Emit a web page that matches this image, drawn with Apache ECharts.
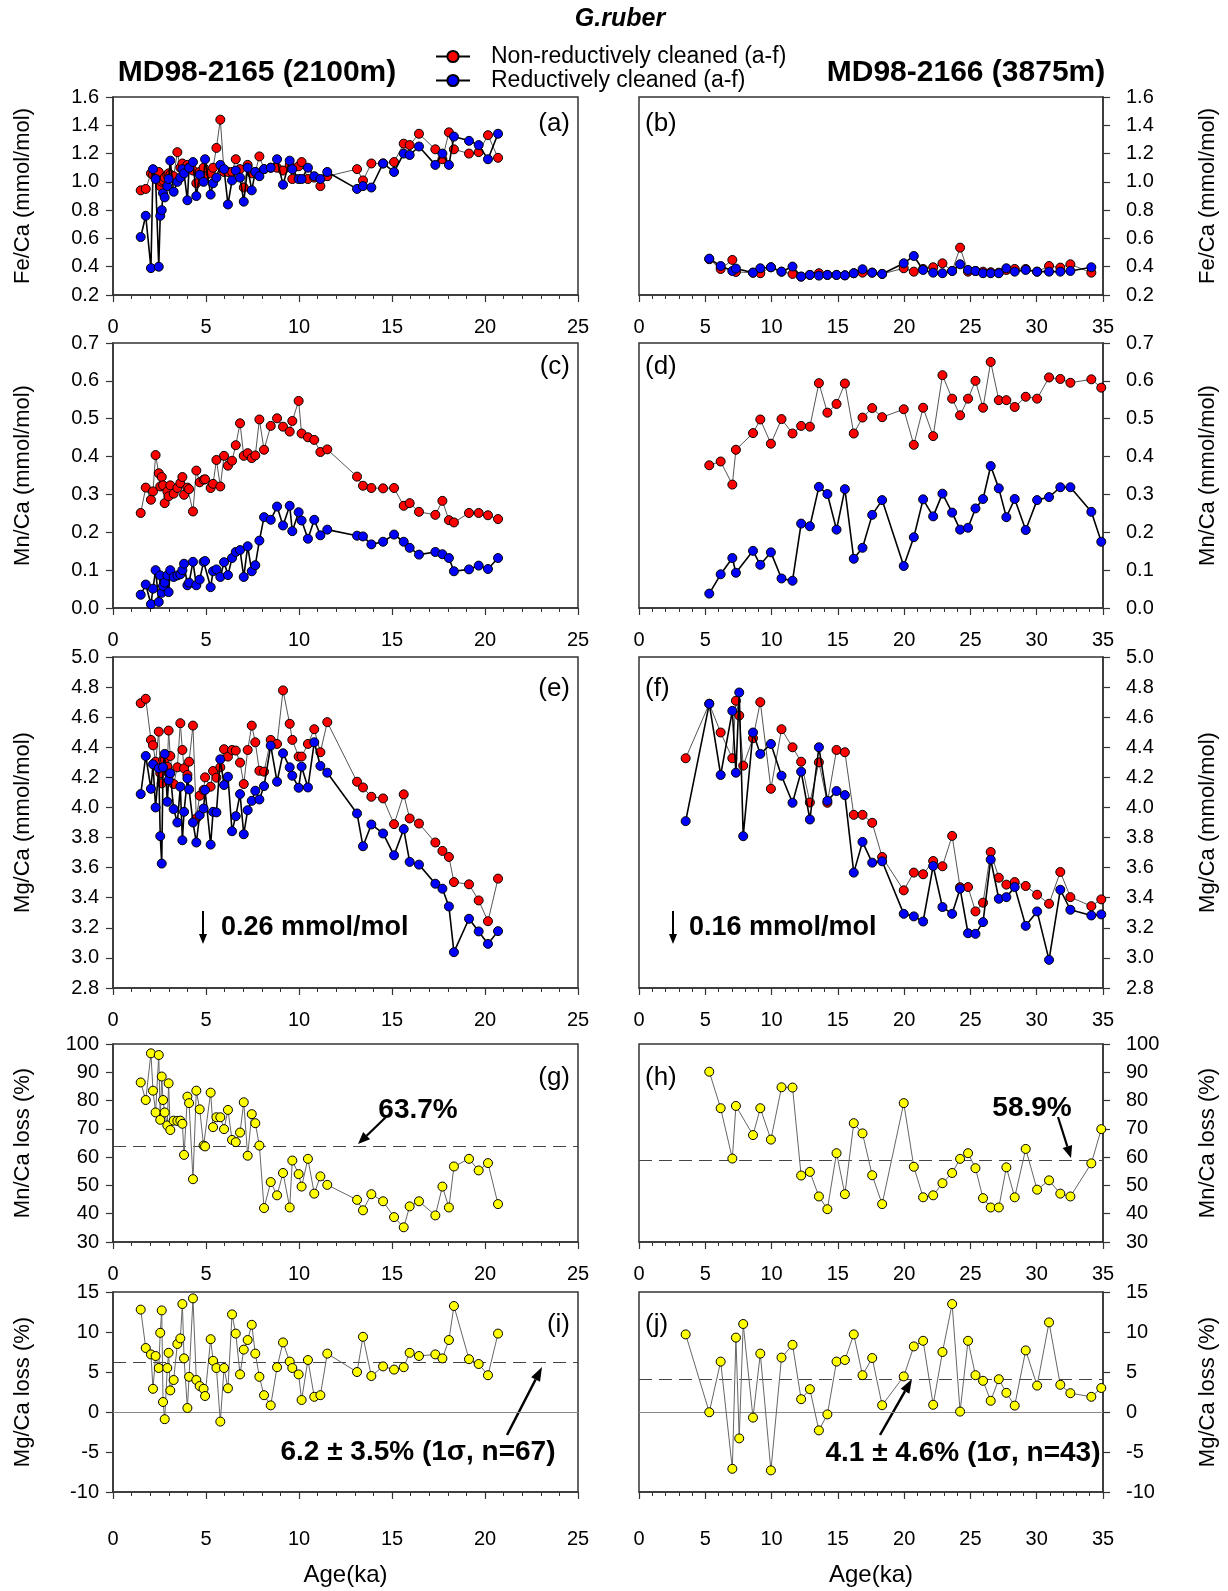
<!DOCTYPE html>
<html><head><meta charset="utf-8">
<script src="https://cdn.jsdelivr.net/npm/echarts@6/dist/echarts.min.js"></script>
<style>html,body{margin:0;padding:0;background:#fff}#c{width:1228px;height:1591px}</style>
</head><body><div id="c"></div><script>
// ---------------- DATA ----------------
const AGE_L = [1.49,1.76,2.04,2.15,2.29,2.46,2.54,2.62,2.69,2.78,2.92,2.99,3.08,3.26,3.46,3.62,3.73,3.82,4.0,4.09,4.3,4.48,4.66,4.87,4.95,5.25,5.38,5.56,5.77,5.97,6.18,6.4,6.6,6.83,7.03,7.24,7.46,7.65,7.87,8.12,8.48,8.82,9.14,9.5,9.64,9.98,10.14,10.48,10.82,11.15,11.52,13.12,13.44,13.89,14.52,15.11,15.63,15.95,16.45,17.33,17.71,18.06,18.33,19.14,19.66,20.16,20.7];
const AGE_R = [3.52,5.3,6.16,7.04,7.31,7.56,7.86,8.6,9.15,9.95,10.75,11.58,12.23,12.89,13.57,14.21,14.9,15.53,16.2,16.86,17.59,18.34,19.97,20.73,21.43,22.19,22.89,23.62,24.22,24.82,25.38,25.95,26.53,27.14,27.71,28.34,29.17,30.03,30.93,31.78,32.54,34.12,34.87];

// MD98-2165 (left)
const FE_NR_L = [0.94,0.95,1.06,1.05,1.04,1.07,0.97,1.00,1.01,1.03,1.05,1.06,1.05,1.04,1.21,1.10,1.13,1.09,1.12,1.10,1.08,0.99,1.07,1.10,1.04,1.06,1.10,1.24,1.44,1.07,1.07,1.07,1.16,1.09,0.96,1.12,1.06,1.07,1.18,1.09,1.10,1.10,1.08,1.12,1.02,1.11,1.14,1.02,1.03,0.97,1.04,1.09,1.01,1.13,1.13,1.14,1.27,1.26,1.34,1.23,1.16,1.35,1.23,1.20,1.21,1.33,1.17];
const FE_R_L = [0.61,0.76,0.39,1.09,1.02,0.40,0.76,0.80,0.92,0.89,0.97,1.02,1.15,0.93,1.00,1.03,1.09,1.06,0.87,1.10,1.14,0.90,1.05,1.00,1.16,0.91,0.99,1.03,1.12,1.09,0.84,1.01,1.08,1.03,0.86,1.10,0.94,1.07,1.04,1.09,1.10,1.16,0.98,1.15,1.09,1.02,1.02,1.10,1.04,1.02,1.07,0.95,0.97,0.96,1.13,1.07,1.20,1.19,1.25,1.12,1.20,1.12,1.32,1.29,1.26,1.16,1.34];
const MN_NR_L = [0.251,0.318,0.286,0.308,0.404,0.356,0.321,0.346,0.324,0.277,0.308,0.295,0.324,0.302,0.317,0.33,0.346,0.299,0.318,0.314,0.255,0.363,0.332,0.339,0.34,0.317,0.328,0.391,0.321,0.402,0.376,0.389,0.43,0.488,0.402,0.409,0.396,0.403,0.498,0.418,0.481,0.501,0.479,0.466,0.494,0.547,0.461,0.451,0.444,0.412,0.419,0.347,0.323,0.317,0.316,0.317,0.27,0.277,0.254,0.246,0.283,0.232,0.226,0.251,0.251,0.245,0.235];
const MN_R_L = [0.035,0.062,0.01,0.051,0.1,0.016,0.086,0.04,0.058,0.067,0.086,0.042,0.1,0.082,0.086,0.089,0.1,0.117,0.06,0.067,0.122,0.06,0.075,0.122,0.124,0.055,0.097,0.102,0.082,0.121,0.087,0.132,0.148,0.153,0.082,0.163,0.097,0.113,0.178,0.24,0.233,0.268,0.218,0.27,0.203,0.253,0.231,0.183,0.233,0.192,0.207,0.191,0.189,0.168,0.175,0.194,0.175,0.159,0.141,0.148,0.142,0.132,0.097,0.102,0.112,0.103,0.132];
const MG_NR_L = [4.693,4.722,4.449,4.413,4.304,4.504,4.227,4.16,4.316,4.316,4.271,4.511,4.342,4.156,4.267,4.56,4.382,4.26,4.216,4.304,4.544,3.927,4.078,4.116,4.2,4.138,4.242,4.198,4.267,4.387,4.338,4.382,4.378,4.298,4.156,4.382,4.544,4.433,4.244,4.238,4.449,4.422,4.778,4.556,4.449,4.338,4.338,4.422,4.52,4.367,4.567,4.171,4.133,4.071,4.06,3.889,4.087,3.927,3.893,3.767,3.711,3.671,3.504,3.489,3.382,3.244,3.527];
const MG_R_L = [4.089,4.342,4.124,4.287,4.0,4.26,3.809,3.627,4.267,4.356,4.038,4.182,4.227,3.989,3.9,4.138,3.782,3.971,4.193,4.12,3.9,3.767,3.949,3.993,4.116,3.753,3.971,3.967,4.32,4.149,4.204,3.842,3.942,4.089,3.822,3.982,4.044,4.111,4.053,4.142,4.411,4.171,4.36,4.267,4.211,4.131,4.271,4.133,4.433,4.276,4.231,3.96,3.742,3.887,3.827,3.682,3.856,3.638,3.62,3.493,3.46,3.342,3.038,3.26,3.176,3.093,3.178];
const MN_LOSS_L = [86.4,80.2,96.7,83.5,75.8,96.1,73.2,88.5,80.2,75.8,71.2,86.1,69.6,72.9,72.8,72.9,71.8,60.8,81.4,79.1,52.2,83.5,76.9,64.1,63.8,82.8,70.6,74.1,74.1,69.9,76.7,66.1,65.3,68.7,79.4,60.5,75.2,72.0,64.1,42.0,51.2,46.5,54.4,42.2,58.8,54.0,49.6,59.4,47.1,53.2,50.2,44.9,41.2,46.9,44.4,38.8,35.2,42.6,44.4,39.4,49.6,42.2,56.7,59.4,55.3,57.9,43.4];
const MG_LOSS_L = [12.8,8.0,7.2,2.9,7.0,5.5,9.9,12.7,1.25,-0.9,5.5,7.4,2.7,4.0,8.5,9.2,13.5,6.7,0.5,4.4,14.2,4.0,3.25,2.9,2.0,9.1,6.4,5.5,-1.2,5.5,2.96,12.2,9.8,4.7,7.8,9.0,10.9,7.3,4.4,2.1,0.83,5.6,8.7,6.3,5.5,4.7,1.5,6.5,1.9,2.1,7.3,5.0,9.4,4.5,5.7,5.3,5.6,7.4,7.0,7.2,6.7,9.0,13.25,6.6,6.0,4.6,9.8];

// MD98-2166 (right)
const FE_NR_R = [null,0.453,0.384,0.448,0.363,null,null,0.358,0.354,0.396,0.365,0.349,0.33,0.342,0.354,0.342,0.342,0.339,0.354,0.358,0.358,0.349,0.389,0.365,0.384,0.396,0.424,0.37,0.535,0.365,0.37,0.365,0.361,0.358,0.377,0.384,0.384,0.365,0.405,0.394,0.417,0.358,null];
const FE_R_R = [null,0.457,0.405,0.37,0.387,null,null,0.358,0.389,0.396,0.365,0.401,0.33,0.342,0.337,0.342,0.342,0.339,0.354,0.382,0.358,0.349,0.424,0.476,0.377,0.358,0.354,0.37,0.417,0.377,0.37,0.354,0.354,0.354,0.389,0.365,0.377,0.365,0.365,0.365,0.37,0.396,null];
const MN_NR_R = [null,0.377,0.387,0.326,0.418,null,null,0.462,0.498,0.434,0.499,0.461,0.481,0.479,0.594,0.516,0.539,0.593,0.461,0.503,0.528,0.504,0.525,0.431,0.529,0.454,0.615,0.553,0.509,0.553,0.6,0.529,0.65,0.549,0.549,0.531,0.558,0.553,0.609,0.605,0.595,0.604,0.582];
const MN_R_R = [null,0.038,0.089,0.132,0.093,null,null,0.151,0.114,0.147,0.078,0.072,0.223,0.216,0.32,0.301,0.207,0.314,0.13,0.159,0.246,0.285,0.111,0.187,0.287,0.242,0.302,0.252,0.207,0.212,0.263,0.288,0.375,0.316,0.24,0.288,0.206,0.285,0.293,0.319,0.319,0.254,0.175];
const MG_NR_R = [4.327,4.689,4.498,4.327,4.709,4.611,4.278,4.46,4.7,4.124,4.52,4.4,4.304,4.033,4.3,4.031,4.382,4.367,3.951,3.951,3.898,3.671,3.449,3.567,3.556,3.644,3.609,3.811,3.47,3.471,3.309,3.367,3.704,3.533,3.487,3.504,3.478,3.42,3.36,3.571,3.404,3.344,3.389];
const MG_R_R = [3.909,4.689,4.216,4.642,4.231,4.764,3.809,4.498,4.356,4.422,4.211,4.031,4.238,3.92,4.4,4.044,4.109,4.082,3.567,3.771,3.633,3.642,3.293,3.276,3.242,3.611,3.338,3.293,3.46,3.164,3.16,3.238,3.653,3.393,3.404,3.471,3.213,3.309,2.987,3.453,3.32,3.282,3.289];
const MN_LOSS_R = [null,90.2,77.3,59.5,78.1,null,null,67.8,77.3,66.2,84.7,84.6,53.5,54.8,46.1,41.6,61.4,46.9,72.0,68.4,53.6,43.4,79.1,56.6,45.8,46.5,50.8,54.4,59.4,61.4,56.1,45.5,42.2,42.2,56.4,45.8,62.9,48.5,51.8,47.1,46.1,57.8,69.9];
const MG_LOSS_R = [9.7,-0.03,6.3,-7.1,9.3,-3.3,11.0,-0.7,7.3,-7.3,6.8,8.4,1.6,2.85,-2.3,-0.3,6.3,6.5,9.7,4.6,6.75,0.85,4.45,8.2,8.9,0.9,7.5,13.5,0.05,8.9,4.6,3.9,1.4,4.1,2.4,0.8,7.7,3.3,11.2,3.4,2.35,1.9,3.0];

// mean losses (reference lines)
const MEAN_MN_LOSS = [63.7, 58.9];
const MEAN_MG_LOSS = [6.2, 4.1];

// axis ranges [min, max, interval]
const X_RANGE = [[0,25,5],[0,35,5]];
const Y_FE = [0.2,1.6,0.2], Y_MN = [0,0.7,0.1], Y_MG = [2.8,5.0,0.2], Y_MNL = [30,100,10], Y_MGL = [-10,15,5];
const NAME_NR = 'Non-reductively cleaned (a-f)', NAME_R = 'Reductively cleaned (a-f)';

// ---------------- LAYOUT ----------------
const FONT = "'Liberation Sans', Arial, Helvetica, sans-serif";
const COLS = [{left:113,width:465},{left:639,width:464}];
const ROWS = [[97,198],[343,265],[657,331],[1044,198],[1292,200]];
const LABELS = ['(a)','(b)','(c)','(d)','(e)','(f)','(g)','(h)','(i)','(j)'];
const LABEL_Y = [124,367,689,1078,1325];

const panels = [
  {row:0,col:0,y:Y_FE,dec:1,name:'Fe/Ca (mmol/mol)',pair:[FE_NR_L,FE_R_L]},
  {row:0,col:1,y:Y_FE,dec:1,name:'Fe/Ca (mmol/mol)',pair:[FE_NR_R,FE_R_R]},
  {row:1,col:0,y:Y_MN,dec:1,name:'Mn/Ca (mmol/mol)',pair:[MN_NR_L,MN_R_L]},
  {row:1,col:1,y:Y_MN,dec:1,name:'Mn/Ca (mmol/mol)',pair:[MN_NR_R,MN_R_R]},
  {row:2,col:0,y:Y_MG,dec:1,name:'Mg/Ca (mmol/mol)',pair:[MG_NR_L,MG_R_L]},
  {row:2,col:1,y:Y_MG,dec:1,name:'Mg/Ca (mmol/mol)',pair:[MG_NR_R,MG_R_R]},
  {row:3,col:0,y:Y_MNL,dec:0,name:'Mn/Ca loss (%)',loss:MN_LOSS_L,mean:MEAN_MN_LOSS[0]},
  {row:3,col:1,y:Y_MNL,dec:0,name:'Mn/Ca loss (%)',loss:MN_LOSS_R,mean:MEAN_MN_LOSS[1]},
  {row:4,col:0,y:Y_MGL,dec:0,name:'Mg/Ca loss (%)',loss:MG_LOSS_L,mean:MEAN_MG_LOSS[0],zero:true},
  {row:4,col:1,y:Y_MGL,dec:0,name:'Mg/Ca loss (%)',loss:MG_LOSS_R,mean:MEAN_MG_LOSS[1],zero:true}
];

const grid=[], xAxis=[], yAxis=[], series=[];
const AX = '#333';
panels.forEach((p,i)=>{
  const c = COLS[p.col], r = ROWS[p.row];
  const ages = p.col ? AGE_R : AGE_L;
  const xr = X_RANGE[p.col];
  grid.push({left:c.left,width:c.width,top:r[0],height:r[1],show:true,borderColor:AX,borderWidth:1.5,backgroundColor:'transparent'});
  const last = p.row===4;
  xAxis.push({gridIndex:i,type:'value',min:xr[0],max:xr[1],interval:xr[2],
    axisLine:{show:true,onZero:false,lineStyle:{color:AX,width:1.5}},
    axisTick:{show:true,length:7,lineStyle:{color:AX,width:1.2}},
    minorTick:{show:true,splitNumber:5,length:4,lineStyle:{color:AX,width:1}},
    splitLine:{show:false},
    axisLabel:{fontSize:20,color:'#000',fontFamily:FONT,margin:last?37:22},
    name:last?'Age(ka)':'',nameLocation:'middle',nameGap:71,
    nameTextStyle:{fontSize:24,color:'#000',fontFamily:FONT}});
  yAxis.push({gridIndex:i,type:'value',position:p.col?'right':'left',min:p.y[0],max:p.y[1],interval:p.y[2],
    axisLine:{show:true,onZero:false,lineStyle:{color:AX,width:1.5}},
    axisTick:{show:true,length:7,lineStyle:{color:AX,width:1.2}},
    splitLine:{show:false},
    axisLabel:{fontSize:20,color:'#000',fontFamily:FONT,margin:p.col?23:14,formatter:v=>v.toFixed(p.dec)},
    name:p.name,nameLocation:'middle',nameRotate:90,nameGap:p.col?94:79,
    nameTextStyle:{fontSize:22,color:'#000',fontFamily:FONT}});
  const base = {type:'line',xAxisIndex:i,yAxisIndex:i,symbol:'circle',symbolSize:9,connectNulls:true,clip:false,animation:false,silent:true};
  if(p.pair){
    series.push(Object.assign({},base,{name:NAME_NR,data:ages.map((a,k)=>[a,p.pair[0][k]]),
      itemStyle:{color:'#ff0000',borderColor:'#000',borderWidth:1},lineStyle:{color:'#555',width:1},z:3}));
    series.push(Object.assign({},base,{name:NAME_R,data:ages.map((a,k)=>[a,p.pair[1][k]]),
      itemStyle:{color:'#0000ff',borderColor:'#000',borderWidth:1},lineStyle:{color:'#000',width:1.6},z:4}));
  } else {
    const ml = [{yAxis:p.mean,lineStyle:{type:[13,7],color:'#444',width:1.2}}];
    if(p.zero) ml.push({yAxis:0,lineStyle:{type:'solid',color:'#888',width:1}});
    series.push(Object.assign({},base,{name:p.name,data:ages.map((a,k)=>[a,p.loss[k]]),
      itemStyle:{color:'#ffff00',borderColor:'#000',borderWidth:1},lineStyle:{color:'#666',width:1},z:4,
      markLine:{silent:true,symbol:'none',label:{show:false},animation:false,data:ml,z:2}}));
  }
});

// ---------------- ANNOTATIONS ----------------
function txt(x,y,s,font,align){
  return {type:'text',x:x,y:y,silent:true,style:{text:s,font:font,fill:'#000',
    textAlign:align||'center',align:align||'center',textVerticalAlign:'middle',verticalAlign:'middle'}};
}
function arrow(x1,y1,x2,y2,head,w,lw){
  head=head||12; w=w||9; lw=lw||2;
  const dx=x2-x1, dy=y2-y1, L=Math.hypot(dx,dy), ux=dx/L, uy=dy/L;
  const bx=x2-ux*head, by=y2-uy*head, px=-uy, py=ux;
  return [{type:'line',silent:true,shape:{x1:x1,y1:y1,x2:bx,y2:by},style:{stroke:'#000',lineWidth:lw}},
    {type:'polygon',silent:true,shape:{points:[[x2,y2],[bx+px*w/2,by+py*w/2],[bx-px*w/2,by-py*w/2]]},style:{fill:'#000'}}];
}
const B = "bold 27px "+FONT;
const graphic = [
  txt(620,19,'G.ruber',"italic bold 25px "+FONT),
  txt(257,73,'MD98-2165 (2100m)',"bold 30px "+FONT),
  txt(966,73,'MD98-2166 (3875m)',"bold 30px "+FONT),
  txt(221,928,'0.26 mmol/mol',B,'left'),
  txt(689,928,'0.16 mmol/mol',B,'left'),
  txt(418,1110,'63.7%',"bold 28px "+FONT),
  txt(1032,1108,'58.9%',"bold 28px "+FONT),
  txt(418,1452,'6.2 ± 3.5% (1σ, n=67)',"bold 28px "+FONT),
  txt(963,1453,'4.1 ± 4.6% (1σ, n=43)',"bold 28px "+FONT)
].concat(
  arrow(203,911,203,944,10,8,2),
  arrow(673,911,673,944,10,8,2),
  arrow(386,1117,358,1144,12,10,2.2),
  arrow(1058,1117,1071,1158,12,10,2.2),
  arrow(507,1435,542,1367,14,10,2.5),
  arrow(880,1435,912,1379,14,10,2.5)
);
LABELS.forEach((l,i)=>{
  const col=i%2, row=Math.floor(i/2);
  graphic.push(txt(col?645:570,LABEL_Y[row],l,"26px "+FONT,col?'left':'right'));
});

const chart = echarts.init(document.getElementById('c'),null,{renderer:'canvas'});
chart.setOption({
  backgroundColor:'#fff',animation:false,
  textStyle:{fontFamily:FONT},
  legend:{orient:'vertical',left:430,top:40,itemGap:1,itemWidth:34,itemHeight:14,selectedMode:false,
    data:[NAME_NR,NAME_R],textStyle:{fontSize:23,color:'#000',fontFamily:FONT,padding:[0,0,0,16]},
    lineStyle:{color:'#000',width:2}},
  grid:grid,xAxis:xAxis,yAxis:yAxis,series:series,graphic:graphic
});
</script></body></html>
